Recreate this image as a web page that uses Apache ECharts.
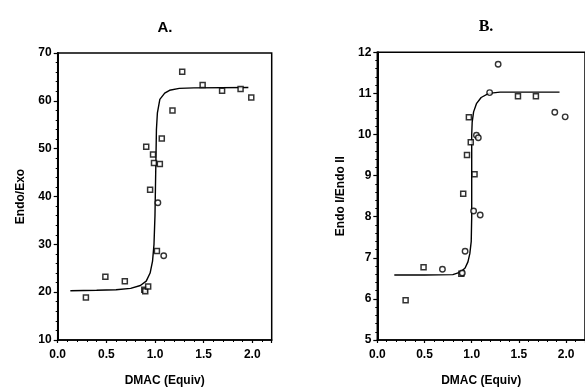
<!DOCTYPE html>
<html>
<head>
<meta charset="utf-8">
<script src="https://cdn.jsdelivr.net/npm/echarts@6/dist/echarts.min.js"></script>
<style>html,body{margin:0;padding:0;background:#fff}#c{width:585px;height:392px}</style>
</head>
<body>
<div id="c"></div>
<script>
// Panel A: Endo/Exo
const aSquares = [[0.29,18.9],[0.49,23.2],[0.69,22.3],[0.89,20.5],[0.90,20.2],[0.93,21.2],[0.95,41.4],[0.91,50.4],[0.98,48.8],[0.99,47.0],[1.05,46.8],[1.02,28.6],[1.07,52.1],[1.18,58.0],[1.28,66.1],[1.49,63.3],[1.69,62.1],[1.88,62.5],[1.99,60.7]];
const aCircles = [[1.03,38.7],[1.09,27.6]];
const aCurve = [[0.13,20.3],[0.4,20.4],[0.6,20.5],[0.75,20.8],[0.85,21.4],[0.91,22.3],[0.95,24],[0.975,26.5],[0.99,30],[1.0,36],[1.005,42],[1.01,48],[1.015,54],[1.025,57.5],[1.05,60.3],[1.1,61.6],[1.15,62.2],[1.25,62.6],[1.4,62.7],[1.96,62.8]];
// Panel B: Endo I/Endo II
const bSquares = [[1.49,10.93],[1.68,10.93],[0.97,10.42],[0.99,9.81],[0.95,9.50],[1.03,9.03],[0.91,8.56],[0.49,6.77],[0.89,6.61],[0.30,5.97]];
const bCircles = [[1.28,11.71],[1.19,11.02],[1.88,10.54],[1.99,10.43],[1.05,9.98],[1.07,9.92],[1.02,8.14],[1.09,8.04],[0.93,7.16],[0.69,6.72],[0.90,6.63]];
const bCurve = [[0.18,6.58],[0.5,6.58],[0.8,6.59],[0.88,6.65],[0.93,6.75],[0.96,6.9],[0.98,7.1],[0.995,7.4],[1.0,8],[1.0,9],[1.0,10],[1.005,10.3],[1.02,10.55],[1.05,10.75],[1.1,10.9],[1.18,11.0],[1.3,11.03],[1.93,11.03]];
const xTicks = ['0.0','0.5','1.0','1.5','2.0'];

const chart = echarts.init(document.getElementById('c'));
const lbl = {color:'#000', fontFamily:'Liberation Sans, Arial', fontWeight:'bold', fontSize:12};
function xFmt(v){const k=v/0.5; return Math.abs(k-Math.round(k))<1e-6 ? (xTicks[Math.round(k)]||'') : '';}
function xAx(i){return {gridIndex:i,type:'value',min:0,max:2.2,interval:0.5,
  axisLine:{lineStyle:{color:'#000',width:1.5}},
  axisTick:{show:true,length:3,lineStyle:{color:'#000',width:1.2}},
  minorTick:{show:true,splitNumber:5,length:2,lineStyle:{color:'#000',width:1}},
  splitLine:{show:false},
  axisLabel:Object.assign({margin:9,formatter:xFmt,showMaxLabel:false},lbl),
  name:'DMAC (Equiv)',nameLocation:'middle',nameGap:35,
  nameTextStyle:{color:'#000',fontFamily:'Liberation Sans, Arial',fontWeight:'bold',fontSize:12}};}
function yAx(i,min,max,intv,name){return {gridIndex:i,type:'value',min:min,max:max,interval:intv,
  axisLine:{lineStyle:{color:'#000',width:2}},
  axisTick:{show:true,length:4,lineStyle:{color:'#000',width:1.2}},
  minorTick:{show:true,splitNumber:5,length:2,lineStyle:{color:'#000',width:1}},
  splitLine:{show:false},
  axisLabel:Object.assign({margin:6},lbl),
  name:name,nameLocation:'middle',nameGap:31,nameRotate:90,
  nameTextStyle:{color:'#000',fontFamily:'Liberation Sans, Arial',fontWeight:'bold',fontSize:12}};}
const sq = {type:'scatter',symbol:'rect',symbolSize:5,itemStyle:{color:'#fff',borderColor:'#000',borderWidth:1.5},z:3};
const ci = {type:'scatter',symbol:'circle',symbolSize:5.5,itemStyle:{color:'#fff',borderColor:'#000',borderWidth:1.4},z:3};
const ln = {type:'line',showSymbol:false,symbol:'none',lineStyle:{color:'#000',width:1.4},z:2};
chart.setOption({
  animation:false,
  title:[
    {text:'A.',left:160,top:15,textAlign:'center',textStyle:{fontFamily:'Liberation Sans, Arial',fontWeight:'bold',fontSize:15,color:'#000'}},
    {text:'B.',left:481,top:14,textAlign:'center',textStyle:{fontFamily:'Liberation Serif, Times New Roman',fontWeight:'bold',fontSize:16,color:'#000'}}
  ],
  grid:[
    {left:57.7,top:53,width:214,height:289.7,show:true,borderColor:'#000',borderWidth:1.5,backgroundColor:'transparent'},
    {left:377.3,top:52.3,width:215.6,height:289.4,show:true,borderColor:'#000',borderWidth:1.5,backgroundColor:'transparent'}
  ],
  xAxis:[xAx(0),xAx(1)],
  yAxis:[yAx(0,10,70,10,'Endo/Exo'),yAx(1,5,12,1,'Endo I/Endo II')],
  series:[
    Object.assign({},ln,{xAxisIndex:0,yAxisIndex:0,data:aCurve}),
    Object.assign({},sq,{xAxisIndex:0,yAxisIndex:0,data:aSquares}),
    Object.assign({},ci,{xAxisIndex:0,yAxisIndex:0,data:aCircles}),
    Object.assign({},ln,{xAxisIndex:1,yAxisIndex:1,data:bCurve}),
    Object.assign({},sq,{xAxisIndex:1,yAxisIndex:1,data:bSquares}),
    Object.assign({},ci,{xAxisIndex:1,yAxisIndex:1,data:bCircles})
  ]
});
</script>
</body>
</html>
